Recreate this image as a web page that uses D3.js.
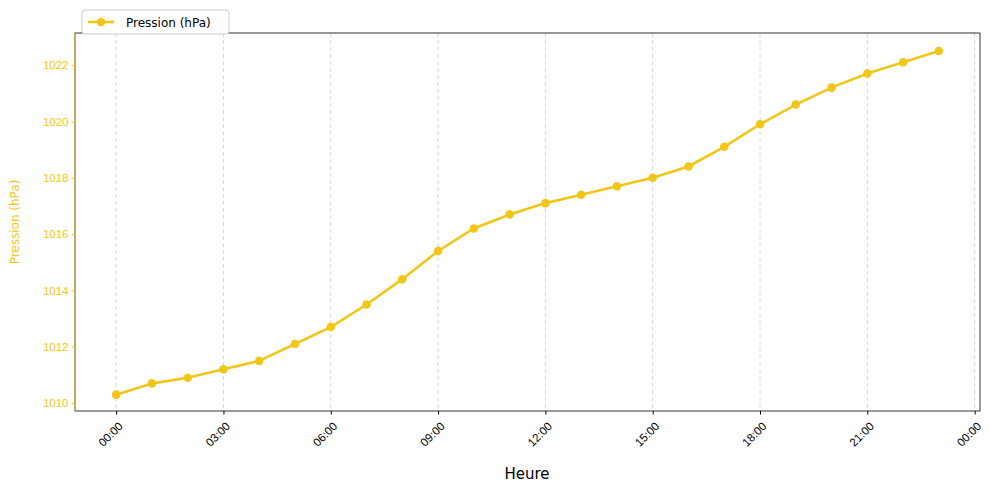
<!DOCTYPE html>
<html><head><meta charset="utf-8">
<script src="https://cdn.jsdelivr.net/npm/d3@7"></script>
<style>body{margin:0;background:#fff}svg{font-family:"DejaVu Sans",sans-serif}</style>
</head><body><svg id="c" width="989" height="493"></svg>
<script>
const hours = [0,1,2,3,4,5,6,7,8,9,10,11,12,13,14,15,16,17,18,19,20,21,22,23];
const pressure = [1010.3,1010.7,1010.9,1011.2,1011.5,1012.1,1012.7,1013.5,1014.4,1015.4,1016.2,1016.7,1017.1,1017.4,1017.7,1018.0,1018.4,1019.1,1019.9,1020.6,1021.2,1021.7,1022.1,1022.5];
const xTicks = [0,3,6,9,12,15,18,21,24];
const yTicks = [1010,1012,1014,1016,1018,1020,1022];
const color = "#f1c618";
const svg = d3.select("#c");
const L=75,R=980,T=33,B=411;
const x = d3.scaleLinear().domain([-1.15,24.15]).range([L,R]);
const y = d3.scaleLinear().domain([1009.72,1023.14]).range([B,T]);
const fmt = h => String(h%24).padStart(2,"0")+":00";
svg.append("g").selectAll("line").data(xTicks).join("line")
 .attr("x1",d=>x(d)).attr("x2",d=>x(d)).attr("y1",T).attr("y2",B)
 .attr("stroke","#ccc").attr("stroke-dasharray","4,3").attr("stroke-width",0.8);
svg.append("rect").attr("x",L).attr("y",T).attr("width",R-L).attr("height",B-T).attr("fill","none").attr("stroke","#000").attr("stroke-width",0.8);
svg.append("line").attr("x1",L).attr("x2",L).attr("y1",T).attr("y2",B).attr("stroke",color).attr("stroke-width",0.8);
const xa = svg.append("g").attr("transform",`translate(0,${B})`).call(d3.axisBottom(x).tickValues(xTicks).tickFormat(fmt).tickSize(3.5));
xa.select(".domain").remove();
xa.selectAll("text").attr("font-size",11.5).attr("fill","#000").attr("text-anchor","end")
 .attr("x",0).attr("y",0).attr("dy","0.35em").attr("transform","translate(4,13) rotate(-45)");
const ya = svg.append("g").attr("transform",`translate(${L},0)`).call(d3.axisLeft(y).tickValues(yTicks).tickFormat(d3.format("d")).tickSize(3.5));
ya.select(".domain").remove();
ya.selectAll("line").attr("stroke",color);
ya.selectAll("text").attr("font-size",11.5).attr("fill",color);
svg.append("text").attr("x",527).attr("y",479).attr("text-anchor","middle").attr("font-size",15).text("Heure");
svg.append("text").attr("transform","translate(19,222) rotate(-90)").attr("text-anchor","middle").attr("font-size",12).attr("fill",color).text("Pression (hPa)");
svg.append("path").datum(hours).attr("fill","none").attr("stroke",color).attr("stroke-width",2.6)
 .attr("d",d3.line().x(d=>x(d)).y((d,i)=>y(pressure[i])));
svg.append("g").selectAll("circle").data(hours).join("circle")
 .attr("cx",d=>x(d)).attr("cy",(d,i)=>y(pressure[i])).attr("r",4.3).attr("fill",color);
const lg = svg.append("g");
lg.append("rect").attr("x",82).attr("y",10).attr("width",147).attr("height",24).attr("rx",3).attr("fill","#fff").attr("stroke","#ccc");
lg.append("line").attr("x1",88).attr("x2",114).attr("y1",22).attr("y2",22).attr("stroke",color).attr("stroke-width",2.6);
lg.append("circle").attr("cx",101).attr("cy",22).attr("r",4.3).attr("fill",color);
lg.append("text").attr("x",126).attr("y",26.5).attr("font-size",12).text("Pression (hPa)");
</script></body></html>
